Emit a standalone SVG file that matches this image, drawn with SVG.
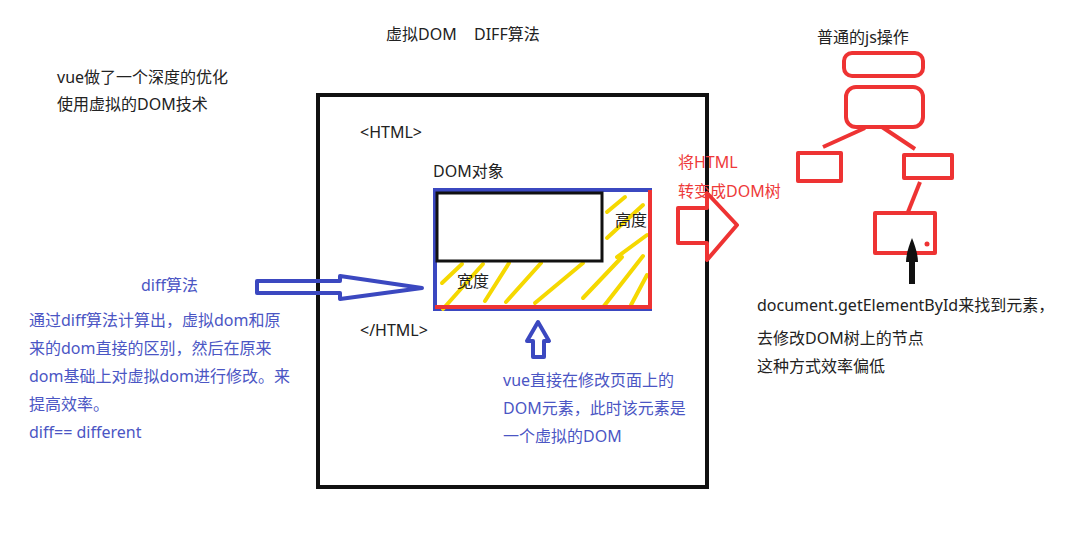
<svg xmlns="http://www.w3.org/2000/svg" width="1087" height="554" viewBox="0 0 1087 554">
<style>
text{font-family:"Noto Sans","Noto Sans CJK SC",sans-serif;font-size:16px}
.k{fill:#222}
.b{fill:#4b56c4}
.r{fill:#ee3a3a}
.red{fill:none;stroke:#ee3333;stroke-width:4;stroke-linejoin:round}
.blu{fill:none;stroke:#3b48c0;stroke-width:4;stroke-linejoin:round}
.hat{stroke:#f5d800;stroke-width:4;stroke-linecap:round}
</style>
<rect width="1087" height="554" fill="#fff"/>
<g id="title"><text class="k" x="386" y="40">虚拟DOM<tspan x="474">DIFF算法</tspan></text></g>
<g id="intro">
<text class="k" x="57" y="83">vue做了一个深度的优化</text>
<text class="k" x="57" y="110">使用虚拟的DOM技术</text>
</g>
<g id="html-box">
<rect x="318" y="95" width="389" height="392" fill="none" stroke="#111" stroke-width="4"/>
<text class="k" x="360" y="138">&lt;HTML&gt;</text>
<text class="k" x="360" y="336">&lt;/HTML&gt;</text>
</g>
<g id="dom-object">
<text class="k" x="433" y="177">DOM对象</text>
<rect x="435" y="190" width="215" height="119" fill="none" stroke="#3b48c0" stroke-width="4"/>
<g class="hat">
<line x1="607" y1="212" x2="625" y2="197"/>
<line x1="607" y1="238" x2="643" y2="205"/>
<line x1="617" y1="257" x2="647" y2="235"/>
<line x1="442" y1="283" x2="462" y2="264"/>
<line x1="443" y1="309" x2="483" y2="264"/>
<line x1="485" y1="301" x2="509" y2="263"/>
<line x1="506" y1="302" x2="541" y2="263"/>
<line x1="535" y1="303" x2="583" y2="263"/>
<line x1="583" y1="298" x2="622" y2="257"/>
<line x1="604" y1="306" x2="643" y2="256"/>
<line x1="631" y1="305" x2="647" y2="275"/>
</g>
<rect x="437" y="193" width="165" height="68" fill="#fff" stroke="#111" stroke-width="3"/>
<polyline points="650,190 650,307 435,307" fill="none" stroke="#ee3333" stroke-width="4"/>
<text class="k" x="615" y="226">高度</text>
<text class="k" x="457" y="287">宽度</text>
</g>
<g id="diff-note">
<text class="b" x="141" y="291">diff算法</text>
<text class="b" x="29" y="326">通过diff算法计算出，虚拟dom和原</text>
<text class="b" x="29" y="354">来的dom直接的区别，然后在原来</text>
<text class="b" x="29" y="382">dom基础上对虚拟dom进行修改。来</text>
<text class="b" x="29" y="410">提高效率。</text>
<text class="b" x="29" y="438">diff== different</text>
</g>
<g id="vue-note">
<text class="b" x="503" y="386">vue直接在修改页面上的</text>
<text class="b" x="503" y="414">DOM元素，此时该元素是</text>
<text class="b" x="503" y="442">一个虚拟的DOM</text>
</g>
<g id="convert-note">
<text class="r" x="678" y="168">将HTML</text>
<text class="r" x="678" y="197">转变成DOM树</text>
</g>
<g id="js-tree">
<text class="k" x="817" y="43">普通的js操作</text>
<rect class="red" x="844" y="53" width="79" height="23" rx="8"/>
<rect class="red" x="846" y="87" width="77" height="40" rx="10"/>
<rect class="red" x="798" y="153" width="43" height="28"/>
<rect class="red" x="904" y="155" width="48" height="23"/>
<rect class="red" x="875" y="213" width="60" height="40"/>
<circle cx="927" cy="244" r="2.5" fill="#ee3333"/>
</g>
<g id="js-note">
<text class="k" x="757" y="311">document.getElementById来找到元素，</text>
<text class="k" x="757" y="344">去修改DOM树上的节点</text>
<text class="k" x="757" y="372">这种方式效率偏低</text>
</g>
<g id="connectors">
<path class="blu" d="M257,281 L340,281 L340,276 L422,288 L340,299 L340,293 L257,293 Z"/>
<path class="blu" d="M538,322 L549,341 L544,341 L544,357 L533,357 L533,341 L527,341 Z"/>
<path class="red" d="M678,208 L707,208 L707,193 L737,225 L707,260 L707,243 L678,243 Z"/>
<line class="red" x1="865" y1="128" x2="823" y2="147"/>
<line class="red" x1="882" y1="127" x2="915" y2="149"/>
<line class="red" x1="920" y1="182" x2="908" y2="212"/>
<path d="M912,238 C915,245 918,255 918,262 L915,262 L915,284 L909,284 L909,262 L906,262 C906,255 909,245 912,238 Z" fill="#111"/>
</g>
</svg>
